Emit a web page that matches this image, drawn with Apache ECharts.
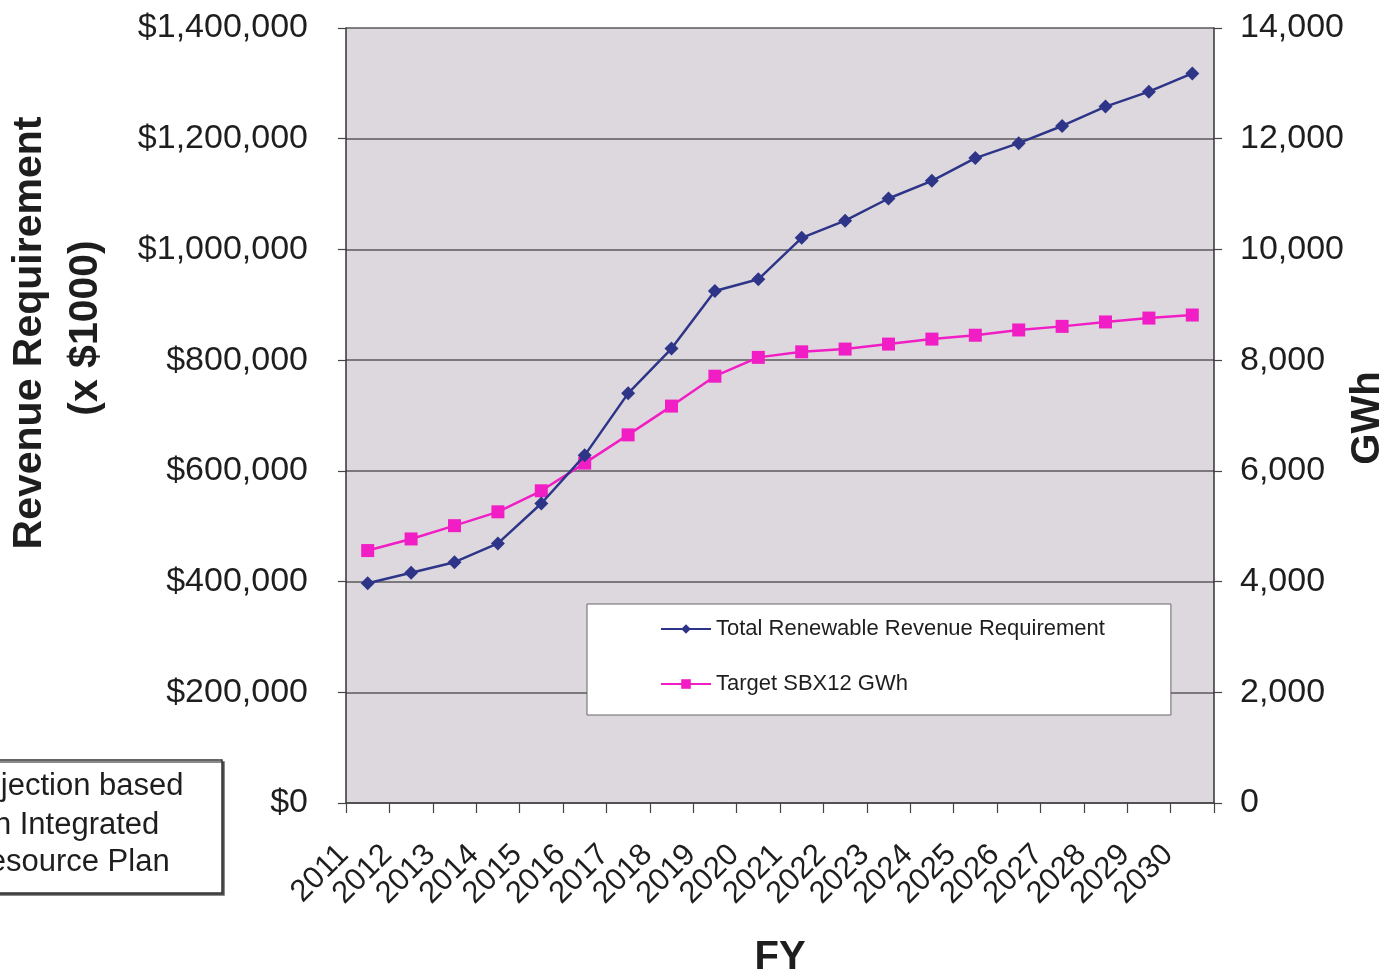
<!DOCTYPE html>
<html>
<head>
<meta charset="utf-8">
<title>Renewable Revenue Requirement and Target GWh</title>
<script src="https://cdn.jsdelivr.net/npm/echarts@6/dist/echarts.min.js"></script>
<style>
  html, body { margin: 0; padding: 0; background: #ffffff; }
  #chart { width: 1387px; height: 975px; }
</style>
</head>
<body>
<div id="chart"></div>
<script>
// Fiscal years on the category axis
const years = ['2011','2012','2013','2014','2015','2016','2017','2018','2019','2020',
               '2021','2022','2023','2024','2025','2026','2027','2028','2029','2030'];

// Total renewable revenue requirement (x $1000), left axis
const revenueRequirement = [397000, 416000, 435000, 469000, 541000, 628000, 740000, 821000, 925000, 946000,
                            1021000, 1052000, 1092000, 1124000, 1165000, 1192000, 1223000, 1258000, 1285000, 1318000];

// Target SBX12 energy in GWh, right axis
const targetGWh = [4560, 4770, 5010, 5260, 5640, 6140, 6650, 7170, 7710, 8050,
                   8150, 8200, 8290, 8380, 8450, 8545, 8610, 8690, 8760, 8815];

const seriesNames = ['Total Renewable Revenue Requirement', 'Target SBX12 GWh'];
const noteLines = ['Projection based', 'on Integrated', 'Resource Plan'];

const FONT = '"Liberation Sans", Arial, Helvetica, sans-serif';
const TEXT = '#1e1e1e';

const chart = echarts.init(document.getElementById('chart'));

const option = {
  animation: false,
  backgroundColor: '#ffffff',
  textStyle: { fontFamily: FONT, color: TEXT },
  grid: {
    left: 346, right: 173, top: 28, bottom: 172,
    show: true, backgroundColor: '#ddd8dd', borderWidth: 0
  },
  legend: {
    orient: 'vertical',
    left: 587, top: 604,
    padding: [14, 66, 20, 73],
    itemGap: 33,
    itemWidth: 50, itemHeight: 12,
    backgroundColor: '#ffffff',
    borderColor: '#666666', borderWidth: 1,
    textStyle: { fontFamily: FONT, fontSize: 22, color: TEXT },
    data: seriesNames
  },
  xAxis: {
    type: 'category',
    data: years,
    boundaryGap: true,
    axisLine: { lineStyle: { color: '#444444', width: 1.5 } },
    axisTick: { show: true, alignWithLabel: false, interval: 0, length: 10, lineStyle: { color: '#444444', width: 1.2 } },
    axisLabel: {
      interval: 0, rotate: 45, margin: 23,
      padding: [0, 34, 0, 0],
      fontFamily: FONT, fontSize: 31, color: TEXT
    },
    splitLine: { show: false }
  },
  yAxis: [
    {
      type: 'value', position: 'left',
      min: 0, max: 1400000, interval: 200000,
      axisLine: { show: true, lineStyle: { color: '#333333', width: 1.5 } },
      axisTick: { show: true, length: 8, lineStyle: { color: '#444444', width: 1.2 } },
      axisLabel: {
        margin: 38, fontFamily: FONT, fontSize: 34, color: TEXT,
        formatter: v => '$' + v.toLocaleString('en-US')
      },
      splitLine: { show: true, lineStyle: { color: '#5a5a5a', width: 1.5 } }
    },
    {
      type: 'value', position: 'right',
      min: 0, max: 14000, interval: 2000,
      axisLine: { show: true, lineStyle: { color: '#333333', width: 1.5 } },
      axisTick: { show: true, length: 8, lineStyle: { color: '#444444', width: 1.2 } },
      axisLabel: {
        margin: 26, fontFamily: FONT, fontSize: 34, color: TEXT,
        formatter: v => v.toLocaleString('en-US')
      },
      splitLine: { show: false }
    }
  ],
  series: [
    {
      name: seriesNames[0],
      type: 'line',
      yAxisIndex: 0,
      data: revenueRequirement,
      symbol: 'diamond', symbolSize: 14,
      lineStyle: { color: '#2e3589', width: 2.5 },
      itemStyle: { color: '#2e3589' },
      z: 3
    },
    {
      name: seriesNames[1],
      type: 'line',
      yAxisIndex: 1,
      data: targetGWh,
      symbol: 'rect', symbolSize: 13,
      lineStyle: { color: '#f01ec4', width: 2.5 },
      itemStyle: { color: '#f01ec4' },
      z: 2
    }
  ],
  graphic: [
    // left axis title, two rotated lines
    {
      type: 'text', x: 30, y: 333, rotation: Math.PI / 2,
      style: { text: 'Revenue Requirement', font: 'bold 41px ' + FONT, fill: TEXT, textAlign: 'center', textVerticalAlign: 'middle' }
    },
    {
      type: 'text', x: 86, y: 328, rotation: Math.PI / 2,
      style: { text: '(x $1000)', font: 'bold 41px ' + FONT, fill: TEXT, textAlign: 'center', textVerticalAlign: 'middle' }
    },
    // right axis title
    {
      type: 'text', x: 1368, y: 418, rotation: Math.PI / 2,
      style: { text: 'GWh', font: 'bold 40px ' + FONT, fill: TEXT, textAlign: 'center', textVerticalAlign: 'middle' }
    },
    // category axis title
    {
      type: 'text', x: 780, y: 958,
      style: { text: 'FY', font: 'bold 40px ' + FONT, fill: TEXT, textAlign: 'center', textVerticalAlign: 'middle' }
    },
    // note box at the lower left
    {
      type: 'rect',
      shape: { x: -40, y: 760, width: 262, height: 133 },
      style: { fill: '#ffffff', stroke: '#333333', lineWidth: 1.5, shadowColor: 'rgba(60,60,60,0.8)', shadowOffsetX: 2, shadowOffsetY: 2, shadowBlur: 0 }
    },
    {
      type: 'text', x: 68, y: 786,
      style: { text: noteLines[0], font: '31px ' + FONT, fill: TEXT, textAlign: 'center', textVerticalAlign: 'middle' }
    },
    {
      type: 'text', x: 68, y: 825,
      style: { text: noteLines[1], font: '31px ' + FONT, fill: TEXT, textAlign: 'center', textVerticalAlign: 'middle' }
    },
    {
      type: 'text', x: 68, y: 862,
      style: { text: noteLines[2], font: '31px ' + FONT, fill: TEXT, textAlign: 'center', textVerticalAlign: 'middle' }
    }
  ]
};

chart.setOption(option);
</script>
</body>
</html>
